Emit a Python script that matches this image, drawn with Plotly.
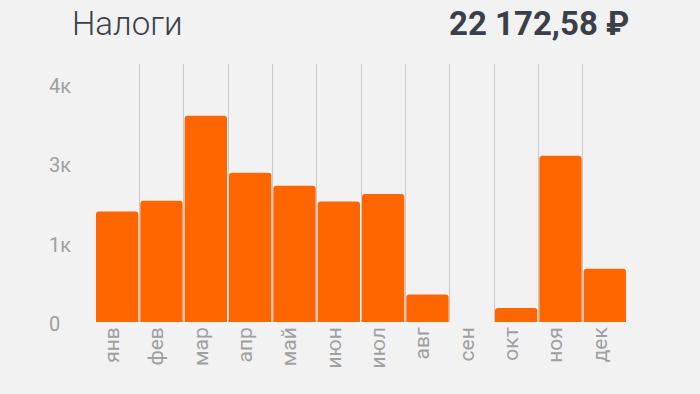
import plotly.graph_objects as go

months = ["янв", "фев", "мар", "апр", "май", "июн", "июл", "авг", "сен", "окт", "ноя", "дек"]
taxes = [1952, 2141, 3641, 2635, 2406, 2129, 2259, 487, 0, 247, 2935, 941]
y_tick_vals = [0, 1400, 2800, 4200]
y_tick_text = ["0", "1к", "3к", "4к"]
title_text = "Налоги"
total_text = "22 172,58 ₽"

BG = "#f2f2f2"
ORANGE = "#ff6600"
GRAY = "#a0a0a0"
DARK = "#3b4048"

fig = go.Figure(
    go.Bar(
        x=months,
        y=taxes,
        marker=dict(color=ORANGE, line=dict(width=0), cornerradius=3),
        hoverinfo="skip",
    )
)

annotations = [
    dict(text=title_text, xref="paper", yref="paper", x=-0.047, y=1.158,
         xanchor="left", yanchor="middle", showarrow=False,
         font=dict(family="Roboto", size=33, color=DARK, weight=300)),
    dict(text=total_text, xref="paper", yref="paper", x=1.0, y=1.158,
         xanchor="right", yanchor="middle", xshift=4, showarrow=False,
         font=dict(family="Roboto", size=33, color=DARK, weight="bold")),
]
# left-aligned y tick labels placed via the y axis scale
for v, t in zip(y_tick_vals, y_tick_text):
    annotations.append(
        dict(text=t, xref="paper", yref="y", x=-0.0902, y=v,
             xanchor="left", yanchor="middle", yshift=-2, showarrow=False,
             font=dict(family="Roboto", size=20, color=GRAY))
    )

fig.update_layout(
    width=700,
    height=394,
    paper_bgcolor=BG,
    plot_bgcolor=BG,
    margin=dict(l=95, r=73, t=64, b=72),
    bargap=0.045,
    showlegend=False,
    font=dict(family="Roboto", color=GRAY),
    annotations=annotations,
)

fig.update_xaxes(
    type="category",
    tickson="boundaries",
    showgrid=True,
    gridcolor="#c9c9c9",
    gridwidth=1,
    ticks="",
    showline=False,
    zeroline=False,
    tickangle=-90,
    ticklabelshift=-5,
    tickfont=dict(family="Roboto", size=21, color=GRAY),
)

fig.update_yaxes(
    range=[0, 4554],
    tickvals=y_tick_vals,
    showticklabels=False,
    showgrid=False,
    zeroline=False,
    showline=False,
    ticks="",
)

fig.write_html(
    "out.html",
    config={"displayModeBar": False},
    post_script="document.body.style.margin='0';",
)
